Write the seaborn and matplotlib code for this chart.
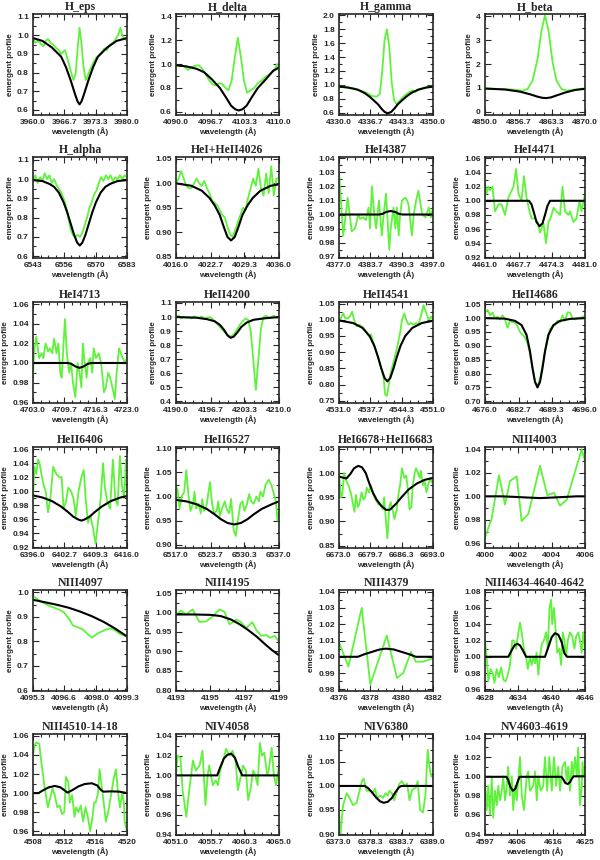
import matplotlib
matplotlib.use("Agg")
import matplotlib.pyplot as plt
import seaborn as sns
from matplotlib.ticker import AutoMinorLocator

sns.set_style("ticks")
plt.rcParams['font.family'] = ['Liberation Sans', 'DejaVu Sans']
plt.rcParams['font.weight'] = 'bold'

GREEN = '#5ef23a'

# ---------------- data ----------------
# H_eps
heps_obs_x = [3960.0, 3960.5, 3961.0, 3961.5, 3962.2, 3962.7, 3963.2, 3963.7, 3964.3, 3965.0, 3965.5, 3966.0, 3966.8,
              3967.4, 3968.0, 3968.6, 3969.1, 3969.5, 3969.9, 3970.3, 3970.7, 3971.2, 3971.6, 3972.2, 3972.8, 3973.4,
              3974.0, 3974.6, 3975.2, 3975.7, 3976.4, 3977.0, 3977.6, 3978.1, 3978.6, 3979.1, 3979.6, 3980.0]
heps_obs_y = [0.98, 0.96, 0.97, 0.96, 0.94, 0.97, 0.98, 0.96, 0.95, 0.93, 0.92, 0.90, 0.92, 0.87, 0.81, 0.76, 0.80,
              0.93, 1.04, 0.96, 0.84, 0.76, 0.78, 0.82, 0.85, 0.88, 0.89, 0.91, 0.93, 0.92, 0.95, 0.96, 0.98, 1.00,
              1.04, 0.99, 0.98, 0.97]
heps_mod_x = [3960, 3962, 3964, 3965, 3966, 3967, 3968, 3968.5, 3969, 3969.5, 3969.9, 3970.3, 3970.8, 3971.3,
              3971.8, 3972.8, 3973.8, 3974.8, 3975.8, 3977.8, 3980]
heps_mod_y = [0.985, 0.97, 0.935, 0.91, 0.885, 0.83, 0.76, 0.72, 0.68, 0.645, 0.63, 0.645, 0.68, 0.72, 0.76, 0.83,
              0.885, 0.91, 0.935, 0.97, 0.985]

# H_delta
hdel_obs_x = [4090.0, 4090.7, 4091.4, 4092.3, 4093.0, 4093.7, 4094.4, 4095.1, 4095.8, 4096.5, 4097.1, 4097.7,
              4098.4, 4099.0, 4099.6, 4100.2, 4100.8, 4101.4, 4102.0, 4102.6, 4103.2, 4103.8, 4104.5, 4105.2,
              4105.9, 4106.6, 4107.3, 4108.0, 4108.6, 4109.2, 4109.6, 4110.0]
hdel_obs_y = [0.99, 0.98, 0.985, 0.95, 0.975, 0.985, 0.99, 0.96, 0.91, 0.86, 0.83, 0.82, 0.84, 0.83, 0.80, 0.78,
              0.86, 1.05, 1.22, 1.06, 0.86, 0.76, 0.78, 0.80, 0.84, 0.86, 0.89, 0.91, 0.93, 0.95, 1.00, 0.96]
hdel_mod_x = [4090, 4092, 4094, 4095.5, 4097, 4098.5, 4099.7, 4100.7, 4101.5, 4102.2, 4102.9, 4103.7, 4104.7,
              4105.9, 4107.4, 4108.9, 4110]
hdel_mod_y = [0.99, 0.98, 0.96, 0.93, 0.87, 0.80, 0.72, 0.65, 0.62, 0.61, 0.62, 0.65, 0.72, 0.80, 0.87, 0.945, 0.97]

# H_gamma
hgam_obs_x = [4330.0, 4331.0, 4332.0, 4333.0, 4334.0, 4335.0, 4336.0, 4337.0, 4338.0, 4338.7, 4339.2, 4339.7,
              4340.2, 4340.7, 4341.2, 4341.7, 4342.3, 4343.0, 4344.0, 4345.0, 4345.7, 4346.3, 4347.0, 4348.0,
              4349.0, 4350.0]
hgam_obs_y = [0.97, 0.975, 0.96, 0.955, 0.93, 0.91, 0.88, 0.84, 0.83, 0.87, 1.20, 1.65, 1.80, 1.55, 1.05, 0.78,
              0.72, 0.78, 0.85, 0.90, 0.92, 0.90, 0.93, 0.96, 0.97, 0.98]
hgam_mod_x = [4330, 4332, 4334, 4335.5, 4336.5, 4337.5, 4338.3, 4339, 4339.7, 4340.4, 4341.1, 4341.8, 4342.5,
              4343.3, 4344.3, 4345.3, 4346.8, 4348.5, 4350]
hgam_mod_y = [0.975, 0.96, 0.93, 0.88, 0.83, 0.77, 0.72, 0.66, 0.61, 0.59, 0.61, 0.66, 0.72, 0.77, 0.83, 0.88,
              0.93, 0.96, 0.975]

# H_beta
hbet_obs_x = [4850.0, 4852.0, 4854.0, 4856.0, 4857.5, 4858.5, 4859.5, 4860.5, 4861.3, 4862.0, 4862.7, 4863.5,
              4864.3, 4865.3, 4866.5, 4867.5, 4869.0, 4870.0]
hbet_obs_y = [0.97, 0.96, 0.95, 0.92, 0.88, 0.95, 1.30, 2.20, 3.40, 4.05, 3.40, 2.10, 1.30, 0.95, 0.88, 0.92,
              0.95, 0.97]
hbet_mod_x = [4850, 4854, 4857, 4859, 4860.5, 4861.5, 4862.3, 4863.2, 4864.3, 4866, 4868, 4870]
hbet_mod_y = [0.97, 0.93, 0.84, 0.73, 0.63, 0.58, 0.57, 0.60, 0.68, 0.80, 0.91, 0.96]

# H_alpha
halp_obs_x = [6543, 6544, 6545, 6546, 6547, 6548, 6549, 6550, 6551, 6552, 6553, 6554, 6555, 6556, 6557, 6558,
              6559, 6560, 6561, 6562, 6563, 6564, 6565, 6566, 6567, 6568, 6569, 6570, 6571, 6572, 6573, 6574,
              6575, 6576, 6577, 6578, 6579, 6580, 6581, 6582, 6583]
halp_obs_y = [0.99, 1.02, 0.98, 1.01, 0.99, 1.03, 1.00, 1.02, 0.98, 1.00, 0.97, 0.95, 0.93, 0.90, 0.86, 0.80,
              0.74, 0.71, 0.70, 0.71, 0.70, 0.72, 0.76, 0.80, 0.85, 0.88, 0.92, 0.94, 0.98, 1.01, 0.99, 1.02,
              1.00, 1.02, 0.99, 1.01, 1.00, 1.02, 1.00, 1.02, 1.01]
halp_mod_x = [6543, 6547, 6550, 6552, 6554, 6556, 6557.5, 6559, 6560.5, 6561.8, 6562.9, 6564, 6565.3, 6566.8,
              6568.3, 6569.8, 6571.8, 6573.8, 6575.8, 6579, 6583]
halp_mod_y = [0.995, 0.99, 0.975, 0.96, 0.93, 0.88, 0.83, 0.77, 0.71, 0.67, 0.655, 0.67, 0.71, 0.77, 0.83, 0.88,
              0.93, 0.96, 0.975, 0.99, 0.995]

# HeI+HeII4026
he4026_obs_x = [4016.0, 4016.5, 4017.0, 4017.5, 4018.0, 4018.5, 4019.0, 4019.5, 4020.0, 4020.5, 4021.0, 4021.5,
                4022.0, 4022.5, 4023.0, 4023.5, 4024.0, 4024.5, 4025.0, 4025.5, 4026.0, 4026.5, 4027.0, 4027.5,
                4028.0, 4028.5, 4029.0, 4029.5, 4030.0, 4030.5, 4031.0, 4031.5, 4032.0, 4032.5, 4033.0, 4033.5,
                4034.0, 4034.5, 4035.0, 4035.5, 4036.0]
he4026_obs_y = [1.00, 1.01, 1.025, 1.01, 0.995, 0.99, 0.99, 1.00, 1.01, 1.00, 0.995, 1.005, 0.99, 0.98, 0.965,
                0.96, 0.955, 0.945, 0.935, 0.93, 0.91, 0.895, 0.89, 0.905, 0.92, 0.935, 0.95, 0.945, 0.97, 0.99,
                1.01, 0.995, 1.03, 0.99, 0.975, 1.02, 0.98, 1.035, 0.975, 1.01, 1.01]
he4026_mod_x = [4016, 4019, 4021, 4022.5, 4023.5, 4024.5, 4025.3, 4026, 4026.7, 4027.4, 4028.1, 4028.9, 4029.9,
                4030.9, 4032.4, 4034.4, 4036]
he4026_mod_y = [1.00, 0.995, 0.985, 0.97, 0.955, 0.935, 0.91, 0.89, 0.883, 0.89, 0.91, 0.935, 0.955, 0.97, 0.985,
                0.995, 0.998]

# HeI4387
he4387_obs_x = [4377.0, 4377.9, 4378.85, 4379.7, 4380.4, 4381.1, 4381.5, 4382.2, 4382.7, 4383.3, 4383.6, 4384.0,
                4384.5, 4384.9, 4385.5, 4386.1, 4386.5, 4387.0, 4387.7, 4388.0, 4388.6, 4389.0, 4389.3, 4389.7,
                4390.0, 4390.4, 4391.1, 4391.5, 4391.8, 4392.5, 4392.9, 4393.4, 4393.9, 4394.7, 4395.4, 4396.1,
                4396.6, 4397.0]
he4387_obs_y = [1.03, 0.985, 1.012, 0.988, 0.99, 1.00, 0.997, 0.998, 0.996, 1.005, 0.99, 1.02, 1.00, 0.99, 1.01,
                0.985, 1.00, 1.015, 0.975, 0.99, 1.005, 0.99, 1.005, 0.985, 1.00, 1.01, 1.012, 1.01, 1.007, 0.985,
                1.00, 1.01, 1.017, 1.00, 0.998, 1.005, 0.998, 1.005]
he4387_mod_x = [4377, 4385.5, 4386.3, 4387, 4388, 4389, 4389.7, 4390.5, 4397]
he4387_mod_y = [1.0, 1.0, 1.0005, 1.0018, 1.0025, 1.0018, 1.0005, 1.0, 1.0]

# HeI4471
he4471_obs_x = [4461.0, 4461.3, 4461.7, 4462.0, 4462.5, 4463.0, 4463.7, 4464.3, 4465.0, 4465.7, 4466.7, 4467.2,
                4467.7, 4468.3, 4468.8, 4469.3, 4469.9, 4470.3, 4471.0, 4471.5, 4472.0, 4472.7, 4473.2, 4473.7,
                4474.1, 4474.7, 4475.3, 4476.0, 4476.5, 4477.0, 4477.7, 4478.0, 4478.7, 4479.3, 4479.9, 4480.3,
                4481.0]
he4471_obs_y = [1.025, 1.01, 1.02, 1.015, 1.02, 0.985, 0.995, 0.995, 0.98, 1.005, 1.02, 1.045, 1.01, 1.0, 1.035,
                1.005, 0.985, 0.975, 0.975, 0.97, 0.955, 0.968, 0.94, 0.97, 0.975, 0.99, 0.985, 0.98, 1.02, 0.985,
                0.98, 0.985, 0.97, 0.975, 1.00, 0.985, 1.01]
he4471_mod_x = [4461, 4469.8, 4470.3, 4470.8, 4471.3, 4471.9, 4472.5, 4473, 4473.5, 4474, 4481]
he4471_mod_y = [1.0, 1.0, 0.995, 0.983, 0.97, 0.964, 0.968, 0.98, 0.993, 1.0, 1.0]

# HeI4713
he4713_obs_x = [4703.0, 4703.2, 4703.7, 4704.3, 4704.8, 4705.2, 4705.7, 4706.2, 4706.6, 4707.1, 4707.5, 4708.0,
                4708.4, 4708.8, 4709.1, 4709.5, 4709.8, 4710.2, 4710.7, 4711.1, 4711.5, 4712.0, 4712.5, 4712.9,
                4713.3, 4713.6, 4714.0, 4714.4, 4714.7, 4715.2, 4715.6, 4715.9, 4716.4, 4717.0, 4717.5, 4718.1,
                4718.5, 4719.0, 4719.4, 4719.9, 4720.4, 4720.8, 4721.3, 4721.7, 4722.1, 4722.6, 4723.0]
he4713_obs_y = [0.985, 1.01, 1.027, 1.005, 1.01, 1.005, 1.02, 1.012, 1.015, 1.01, 1.025, 1.01, 1.02, 0.99, 0.985,
                1.02, 1.045, 1.01, 0.99, 1.00, 0.98, 0.965, 1.0, 0.99, 0.975, 1.02, 1.00, 0.985, 1.0, 1.005, 0.99,
                1.015, 1.005, 1.01, 1.0, 0.97, 0.975, 0.99, 0.985, 0.975, 0.963, 0.99, 1.015, 1.01, 1.005, 1.0,
                1.005]
he4713_mod_x = [4703, 4710.5, 4711.2, 4712, 4712.9, 4713.8, 4714.6, 4715.4, 4723]
he4713_mod_y = [1.0, 1.0, 0.999, 0.9965, 0.995, 0.9965, 0.999, 1.0, 1.0]

# HeII4200
he4200_obs_x = [4190.0, 4190.5, 4191.0, 4191.5, 4192.0, 4192.5, 4193.0, 4193.5, 4194.0, 4194.5, 4195.0, 4195.5,
                4196.0, 4196.5, 4197.0, 4197.5, 4198.0, 4198.5, 4199.0, 4199.5, 4200.0, 4200.5, 4201.0, 4201.5,
                4202.0, 4202.5, 4203.0, 4203.5, 4204.0, 4204.5, 4205.0, 4205.5, 4206.0, 4206.5, 4207.0, 4207.5,
                4208.0, 4208.5, 4209.0, 4209.5, 4210.0]
he4200_obs_y = [1.0, 1.01, 0.99, 1.0, 0.995, 1.0, 0.99, 1.005, 1.0, 0.995, 1.005, 0.985, 0.995, 1.0, 0.99, 0.97,
                0.95, 0.93, 0.91, 0.89, 0.87, 0.86, 0.87, 0.89, 0.92, 0.95, 0.97, 0.99, 0.98, 0.90, 0.70, 0.48,
                0.70, 0.92, 1.0, 1.01, 0.995, 1.0, 1.01, 0.995, 1.005]
he4200_mod_x = [4190, 4194, 4196, 4197.5, 4198.5, 4199.3, 4200, 4200.6, 4201.2, 4201.9, 4202.7, 4203.7, 4205,
                4207, 4210]
he4200_mod_y = [1.0, 0.995, 0.985, 0.97, 0.945, 0.91, 0.87, 0.852, 0.86, 0.89, 0.93, 0.96, 0.98, 0.99, 1.0]

# HeII4541
he4541_obs_x = [4531.0, 4531.4, 4531.9, 4532.3, 4532.9, 4533.3, 4533.8, 4534.2, 4534.8, 4535.3, 4536.2, 4536.9,
                4537.3, 4537.8, 4538.3, 4539.0, 4539.8, 4540.5, 4540.8, 4541.2, 4541.5, 4541.9, 4542.6, 4543.3,
                4544.0, 4544.4, 4544.9, 4545.3, 4545.8, 4546.3, 4546.9, 4547.4, 4547.9, 4548.4, 4549.0, 4549.6,
                4550.1, 4550.6, 4551.0]
he4541_obs_y = [0.99, 1.005, 1.02, 1.005, 1.005, 1.01, 1.025, 1.0, 0.98, 0.985, 0.975, 0.96, 0.95, 0.955, 0.93,
                0.90, 0.86, 0.82, 0.77, 0.765, 0.79, 0.83, 0.87, 0.91, 0.96, 1.0, 1.02, 1.0, 0.985, 0.99, 0.985,
                0.99, 0.985, 1.01, 1.045, 1.02, 1.0, 1.01, 1.0]
he4541_mod_x = [4531, 4534, 4536, 4537.5, 4538.5, 4539.3, 4540, 4540.7, 4541.3, 4541.9, 4542.6, 4543.3, 4544.1,
                4545.1, 4546.6, 4548.6, 4551]
he4541_mod_y = [0.998, 0.99, 0.975, 0.95, 0.92, 0.885, 0.85, 0.82, 0.81, 0.82, 0.85, 0.885, 0.92, 0.95, 0.975,
                0.99, 0.997]

# HeII4686
he4686_obs_x = [4676.0, 4676.5, 4677.0, 4677.5, 4678.0, 4678.5, 4679.0, 4679.5, 4680.0, 4680.5, 4681.0, 4681.5,
                4682.0, 4682.5, 4683.0, 4683.5, 4684.0, 4684.5, 4685.0, 4685.5, 4686.0, 4686.5, 4687.0, 4687.5,
                4688.0, 4688.5, 4689.0, 4689.5, 4690.0, 4690.5, 4691.0, 4691.5, 4692.0, 4692.5, 4693.0, 4693.5,
                4694.0, 4694.5, 4695.0, 4695.5, 4696.0]
he4686_obs_y = [1.02, 1.03, 1.01, 1.02, 1.00, 1.005, 0.995, 1.01, 0.995, 0.965, 0.99, 0.985, 0.985, 0.97, 0.95,
                0.94, 0.93, 0.91, 0.87, 0.82, 0.77, 0.755, 0.78, 0.83, 0.88, 0.93, 0.96, 0.97, 0.975, 0.99, 0.985,
                1.01, 0.99, 1.02, 1.02, 1.0, 0.995, 1.0, 1.0, 1.005, 1.005]
he4686_mod_x = [4676, 4680, 4682, 4683.3, 4684.3, 4685, 4685.5, 4686, 4686.5, 4687, 4687.5, 4688, 4688.7, 4689.7,
                4691, 4693, 4696]
he4686_mod_y = [1.0, 0.998, 0.99, 0.975, 0.94, 0.88, 0.82, 0.77, 0.75, 0.77, 0.82, 0.88, 0.94, 0.975, 0.99, 0.997,
                1.0]

# HeII6406
he6406_obs_x = [6396.0, 6396.3, 6396.7, 6397.1, 6397.4, 6397.9, 6398.4, 6398.7, 6399.2, 6399.7, 6400.3, 6400.9,
                6401.6, 6402.1, 6402.5, 6403.0, 6403.5, 6404.1, 6404.6, 6405.1, 6405.7, 6406.3, 6406.8, 6407.2,
                6407.7, 6408.2, 6408.7, 6409.3, 6409.9, 6410.4, 6410.9, 6411.3, 6411.8, 6412.4, 6413.0, 6413.5,
                6414.0, 6414.5, 6414.9, 6415.4, 6415.8, 6416.0]
he6406_obs_y = [0.99, 1.035, 1.025, 1.045, 1.04, 1.02, 1.005, 1.0, 0.97, 0.99, 1.035, 1.025, 1.02, 1.02, 0.975,
                0.985, 1.005, 1.0, 0.99, 0.965, 1.0, 1.02, 1.03, 0.99, 0.955, 0.965, 0.95, 0.925, 0.96, 0.99, 1.04,
                1.005, 0.985, 0.975, 1.045, 0.99, 0.98, 1.05, 1.01, 0.99, 1.045, 1.04]
he6406_mod_x = [6396, 6398, 6400, 6402, 6403.5, 6404.5, 6405.5, 6406.3, 6407.1, 6408.1, 6409.1, 6410.6, 6412.6,
                6414.6, 6416]
he6406_mod_y = [0.994, 0.991, 0.986, 0.978, 0.970, 0.964, 0.96, 0.958, 0.96, 0.964, 0.970, 0.978, 0.986, 0.991,
                0.993]

# HeII6527
he6527_obs_x = [6517.0, 6517.3, 6517.7, 6518.1, 6518.6, 6519.0, 6519.4, 6519.8, 6520.3, 6520.6, 6520.9, 6521.4,
                6521.8, 6522.1, 6522.4, 6522.9, 6523.6, 6524.0, 6524.4, 6524.9, 6525.2, 6525.5, 6526.1, 6526.5,
                6526.8, 6527.3, 6527.7, 6528.2, 6528.6, 6529.0, 6529.5, 6529.9, 6530.3, 6530.8, 6531.2, 6531.6,
                6532.1, 6532.6, 6533.1, 6533.4, 6533.9, 6534.4, 6535.0, 6535.5, 6535.9, 6536.4, 6536.7, 6537.0]
he6527_obs_y = [1.02, 1.015, 0.975, 1.0, 1.01, 1.055, 1.005, 0.97, 0.985, 1.01, 0.975, 0.985, 0.965, 0.995, 0.97,
                0.98, 1.03, 0.985, 0.965, 0.97, 0.99, 0.96, 0.98, 0.99, 0.975, 0.965, 0.995, 0.93, 0.918, 0.95,
                0.985, 0.99, 0.97, 0.985, 1.005, 0.99, 0.985, 1.0, 0.99, 1.01, 1.0, 1.025, 1.035, 1.025, 1.01, 0.99,
                0.95, 0.97]
he6527_mod_x = [6517, 6519, 6521, 6523, 6524.5, 6525.7, 6527, 6528.3, 6529.6, 6530.9, 6532.1, 6533.6, 6535.6, 6537]
he6527_mod_y = [0.993, 0.99, 0.984, 0.974, 0.963, 0.953, 0.945, 0.942, 0.945, 0.953, 0.963, 0.974, 0.984, 0.99]

# HeI6678+HeII6683
he6678_obs_x = [6673.0, 6673.4, 6673.7, 6674.1, 6674.5, 6675.0, 6675.5, 6675.8, 6676.3, 6676.6, 6677.0, 6677.3,
                6677.8, 6678.2, 6678.6, 6678.9, 6679.4, 6679.8, 6680.3, 6680.8, 6681.4, 6681.9, 6682.3, 6682.6,
                6683.0, 6683.3, 6683.7, 6684.0, 6684.5, 6684.8, 6685.3, 6685.7, 6686.0, 6686.4, 6686.9, 6687.3,
                6687.6, 6688.0, 6688.4, 6688.7, 6689.1, 6689.4, 6689.8, 6690.2, 6690.4, 6690.9, 6691.2, 6691.6,
                6692.1, 6692.4, 6692.8, 6693.0]
he6678_obs_y = [1.0, 0.95, 0.955, 1.0, 0.985, 0.975, 0.96, 0.945, 0.92, 0.955, 0.93, 0.935, 0.96, 0.945, 0.95,
                0.97, 0.96, 0.975, 0.955, 0.945, 0.935, 0.935, 0.925, 0.95, 0.90, 0.865, 0.93, 0.94, 0.92, 0.905,
                0.925, 0.96, 0.975, 1.01, 0.99, 0.995, 0.97, 0.925, 0.93, 0.975, 1.0, 1.01, 1.0, 0.99, 1.005, 0.975,
                0.985, 0.96, 0.98, 0.99, 0.98, 0.985]
he6678_mod_x = [6673, 6674, 6674.6, 6675.4, 6676.2, 6677.1, 6677.9, 6678.7, 6679.4, 6680.2, 6681, 6682, 6683,
                6683.8, 6685, 6686.3, 6687.8, 6689.5, 6691.2, 6693]
he6678_mod_y = [0.993, 0.99, 0.989, 0.998, 1.01, 1.015, 1.012, 1.0, 0.98, 0.96, 0.945, 0.932, 0.924, 0.924, 0.935,
                0.95, 0.966, 0.978, 0.986, 0.99]

# NIII4003
n4003_obs_x = [4000.0, 4000.4, 4000.84, 4001.2, 4001.5, 4001.9, 4002.2, 4002.6, 4003.3, 4003.74, 4004.14, 4004.5,
               4004.9, 4005.8, 4006.0]
n4003_obs_y = [0.965, 0.981, 1.018, 0.993, 1.013, 1.017, 0.979, 0.985, 1.026, 1.001, 1.003, 0.992, 0.997, 1.040,
               1.030]
n4003_mod_x = [4000, 4001, 4001.8, 4002.5, 4003.3, 4004.1, 4004.8, 4005.5, 4006]
n4003_mod_y = [1.0, 1.0, 0.9995, 0.999, 0.9985, 0.999, 0.9995, 1.0, 1.0]

# NIII4097
n4097_obs_x = [4095.3, 4095.6, 4096.0, 4096.4, 4096.6, 4096.85, 4097.0, 4097.4, 4097.8, 4098.1, 4098.4, 4098.6,
               4098.8, 4099.0, 4099.3]
n4097_obs_y = [0.985, 0.965, 0.945, 0.93, 0.92, 0.89, 0.865, 0.85, 0.815, 0.835, 0.848, 0.853, 0.845, 0.83, 0.82]
n4097_mod_x = [4095.3, 4095.8, 4096.3, 4096.8, 4097.3, 4097.8, 4098.3, 4098.8, 4099.3]
n4097_mod_y = [0.970, 0.960, 0.950, 0.938, 0.922, 0.903, 0.880, 0.852, 0.820]

# NIII4195
n4195_obs_x = [4193.0, 4193.29, 4193.58, 4193.97, 4194.36, 4194.75, 4195.14, 4195.53, 4195.82, 4196.12, 4196.31,
               4196.51, 4196.8, 4197.09, 4197.44, 4197.68, 4197.97, 4198.26, 4198.49, 4198.75, 4199.0]
n4195_obs_y = [0.995, 1.005, 0.995, 1.008, 0.976, 0.977, 0.99, 1.008, 1.002, 0.97, 0.975, 0.982, 0.975, 0.96,
               0.975, 0.955, 0.94, 0.942, 0.935, 0.94, 0.925]
n4195_mod_x = [4193, 4194, 4195, 4195.6, 4196.2, 4196.7, 4197.2, 4197.7, 4198.2, 4198.6, 4199]
n4195_mod_y = [0.995, 0.995, 0.994, 0.991, 0.982, 0.97, 0.955, 0.938, 0.918, 0.903, 0.89]

# NIII4379
n4379_obs_x = [4376.0, 4376.6, 4377.45, 4378.0, 4379.05, 4379.7, 4380.1, 4380.6, 4380.9, 4381.35, 4382.0]
n4379_obs_y = [1.009, 0.994, 1.03, 0.983, 1.013, 0.987, 0.99, 1.003, 0.997, 0.997, 0.999]
n4379_mod_x = [4376, 4377.2, 4377.6, 4378.1, 4378.6, 4379.0, 4379.5, 4380.0, 4380.5, 4380.9, 4382]
n4379_mod_y = [1.0, 1.0, 1.0015, 1.003, 1.0045, 1.005, 1.0045, 1.003, 1.0015, 1.0, 1.0]

# NIII4634-4640-4642
n4634_obs_x = [4628.0, 4628.3, 4628.6, 4629.0, 4629.4, 4629.7, 4630.1, 4630.5, 4630.9, 4631.3, 4631.7, 4632.0,
               4632.5, 4632.9, 4633.2, 4633.6, 4633.9, 4634.3, 4634.6, 4635.0, 4635.4, 4635.7, 4636.1, 4636.4,
               4636.7, 4637.0, 4637.3, 4637.6, 4637.9, 4638.2, 4638.6, 4639.0, 4639.3, 4639.6, 4639.9, 4640.1,
               4640.4, 4640.7, 4641.0, 4641.4, 4641.7, 4642.0, 4642.3, 4642.6, 4642.9, 4643.3, 4643.7, 4644.1,
               4644.4, 4644.8, 4645.1, 4645.4, 4645.7, 4646.0]
n4634_obs_y = [1.02, 1.0, 0.97, 0.985, 0.98, 0.968, 0.985, 0.975, 0.987, 0.972, 0.97, 0.975, 0.99, 1.02, 1.02,
               1.01, 1.025, 1.042, 1.03, 1.01, 1.0, 0.985, 1.0, 0.99, 1.0, 0.992, 1.005, 0.978, 1.0, 1.015, 1.02,
               1.03, 1.01, 1.06, 1.07, 1.04, 1.06, 1.035, 1.005, 1.01, 0.99, 1.03, 1.02, 1.0, 1.02, 1.03, 1.025,
               1.01, 1.025, 1.03, 1.02, 1.005, 1.03, 1.01]
n4634_mod_x = [4628, 4632.2, 4632.8, 4633.3, 4633.8, 4634.3, 4634.8, 4635.4, 4638.8, 4639.4, 4640.0, 4640.6,
               4641.2, 4641.8, 4642.3, 4642.8, 4646]
n4634_mod_y = [1.0, 1.0, 1.008, 1.014, 1.016, 1.014, 1.008, 1.0, 1.0, 1.012, 1.024, 1.029, 1.027, 1.018, 1.004,
               1.0, 1.0]

# NIII4510-14-18
n4510_obs_x = [4508.0, 4508.2, 4508.4, 4508.8, 4509.1, 4509.5, 4509.9, 4510.2, 4510.5, 4510.8, 4511.1, 4511.4,
               4511.7, 4512.0, 4512.2, 4512.5, 4512.7, 4513.0, 4513.3, 4513.5, 4513.8, 4514.1, 4514.4, 4514.7,
               4515.0, 4515.3, 4515.6, 4515.8, 4516.0, 4516.3, 4516.5, 4516.8, 4517.1, 4517.3, 4517.6, 4517.9,
               4518.3, 4518.6, 4518.8, 4519.1, 4519.4, 4519.6, 4519.7, 4520.0]
n4510_obs_y = [1.04, 1.05, 1.053, 1.052, 1.03, 1.005, 0.985, 0.995, 1.005, 0.997, 0.985, 0.987, 0.978, 0.98,
               1.017, 1.012, 0.99, 0.998, 0.975, 0.985, 0.98, 0.987, 0.97, 0.985, 0.975, 0.96, 0.975, 0.99, 0.99,
               1.0, 1.025, 1.005, 0.985, 0.97, 0.98, 0.995, 1.015, 1.025, 1.005, 0.985, 1.0, 0.99, 0.97, 0.96]
n4510_mod_x = [4508, 4508.7, 4509.3, 4510, 4510.8, 4511.5, 4512.0, 4512.4, 4513, 4513.8, 4514.6, 4515.5, 4516.2,
               4516.7, 4517.0, 4518, 4519, 4520]
n4510_mod_y = [1.0, 1.0, 1.003, 1.006, 1.0075, 1.006, 1.003, 1.0005, 1.003, 1.007, 1.0095, 1.0103, 1.008, 1.003,
               1.0015, 1.0018, 1.0015, 1.0]

# NIV4058
n4058_obs_x = [4051.0, 4051.2, 4051.6, 4051.9, 4052.4, 4052.8, 4053.3, 4053.7, 4054.2, 4054.6, 4055.0, 4055.3,
               4055.5, 4056.0, 4056.4, 4056.7, 4057.0, 4057.4, 4057.8, 4058.3, 4058.7, 4059.1, 4059.4, 4059.7,
               4060.1, 4060.5, 4060.8, 4061.1, 4061.5, 4061.8, 4062.1, 4062.4, 4062.7, 4063.0, 4063.4, 4063.6,
               4064.0, 4064.3, 4064.6, 4065.0]
n4058_obs_y = [1.0, 1.02, 1.018, 0.985, 0.958, 0.985, 1.015, 1.005, 1.01, 1.025, 0.97, 1.0, 1.01, 0.99, 0.995,
               0.99, 1.005, 1.015, 1.027, 1.02, 1.025, 1.015, 0.985, 0.995, 1.01, 1.005, 0.975, 0.985, 1.005, 1.0,
               0.99, 1.033, 1.02, 1.023, 1.0, 1.005, 1.028, 1.0, 0.99, 1.01]
n4058_mod_x = [4051, 4056.6, 4057.0, 4057.5, 4058.0, 4058.5, 4059.0, 4059.5, 4060.0, 4065]
n4058_mod_y = [1.0, 1.0, 1.008, 1.017, 1.021, 1.022, 1.018, 1.008, 1.0, 1.0]

# NIV6380
n6380_obs_x = [6373.0, 6373.2, 6373.5, 6373.7, 6374.3, 6374.8, 6375.2, 6375.4, 6376.0, 6376.5, 6376.9, 6377.2,
               6377.4, 6377.7, 6378.3, 6378.8, 6379.1, 6379.5, 6380.0, 6380.5, 6380.9, 6381.3, 6381.6, 6382.0,
               6382.4, 6382.9, 6383.3, 6383.7, 6384.2, 6384.6, 6385.0, 6385.4, 6385.7, 6386.0, 6386.4, 6386.8,
               6387.3, 6387.7, 6388.1, 6388.4, 6388.7, 6389.0]
n6380_obs_y = [0.945, 0.89, 0.935, 0.96, 0.985, 0.975, 0.965, 0.96, 0.965, 0.99, 1.01, 1.015, 1.005, 0.99, 0.99,
               0.985, 0.995, 0.975, 0.98, 0.975, 0.985, 0.98, 0.99, 0.985, 0.97, 0.99, 1.005, 1.01, 1.0, 1.005,
               0.97, 0.99, 0.995, 0.995, 1.01, 0.95, 0.945, 0.98, 1.075, 1.04, 1.02, 1.02]
n6380_mod_x = [6373, 6377.4, 6378.0, 6378.6, 6379.3, 6380.0, 6380.6, 6381.3, 6382.0, 6382.6, 6383.2, 6383.6, 6389]
n6380_mod_y = [1.0, 1.0, 0.995, 0.987, 0.976, 0.968, 0.965, 0.967, 0.975, 0.987, 0.997, 1.0, 1.0]

# NV4603-4619
nv4603_obs_x = [4597.0, 4597.5, 4597.9, 4598.4, 4598.9, 4599.3, 4599.8, 4600.3, 4600.7, 4601.2, 4601.7, 4602.1,
                4602.6, 4603.1, 4603.5, 4604.0, 4604.5, 4604.9, 4605.4, 4605.9, 4606.3, 4606.8, 4607.3, 4607.9,
                4608.7, 4609.1, 4609.6, 4610.5, 4611.0, 4611.5, 4611.9, 4612.6, 4613.3, 4613.8, 4614.4, 4615.0,
                4615.7, 4616.3, 4616.9, 4617.5, 4618.0, 4618.7, 4619.4, 4619.9, 4620.3, 4620.8, 4621.3, 4621.7,
                4622.2, 4622.7, 4623.1, 4623.6, 4624.1, 4624.3, 4624.7, 4625.0]
nv4603_obs_y = [0.995, 0.965, 0.99, 0.96, 0.998, 0.957, 0.985, 0.97, 0.99, 0.975, 0.985, 1.0, 0.975, 0.99, 1.01,
                0.98, 1.0, 0.965, 0.99, 0.975, 0.995, 1.02, 0.98, 0.965, 1.0, 1.005, 0.985, 0.99, 1.005, 0.975, 1.0,
                0.985, 0.99, 1.02, 0.985, 1.02, 0.985, 1.02, 0.99, 1.01, 0.985, 1.01, 1.015, 0.995, 1.01, 0.985,
                1.015, 1.0, 1.02, 1.0, 1.03, 0.97, 0.99, 1.015, 1.0, 1.01]
nv4603_mod_x = [4597, 4603.0, 4603.5, 4604.1, 4604.8, 4605.5, 4606.1, 4606.7, 4618.4, 4618.9, 4619.5, 4620.2,
                4620.8, 4621.4, 4621.8, 4625]
nv4603_mod_y = [0.9995, 0.9995, 0.996, 0.989, 0.985, 0.987, 0.994, 0.9995, 0.9995, 0.997, 0.993, 0.992, 0.994,
                0.998, 1.0, 1.0]

# titles, axis ranges and tick labels
titles = ['H_eps', 'H_delta', 'H_gamma', 'H_beta',
          'H_alpha', 'HeI+HeII4026', 'HeI4387', 'HeI4471',
          'HeI4713', 'HeII4200', 'HeII4541', 'HeII4686',
          'HeII6406', 'HeII6527', 'HeI6678+HeII6683', 'NIII4003',
          'NIII4097', 'NIII4195', 'NIII4379', 'NIII4634-4640-4642',
          'NIII4510-14-18', 'NIV4058', 'NIV6380', 'NV4603-4619']

xticklabels = [
    ['3960.0', '3966.7', '3973.3', '3980.0'], ['4090.0', '4096.7', '4103.3', '4110.0'],
    ['4330.0', '4336.7', '4343.3', '4350.0'], ['4850.0', '4856.7', '4863.3', '4870.0'],
    ['6543', '6556', '6570', '6583'], ['4016.0', '4022.7', '4029.3', '4036.0'],
    ['4377.0', '4383.7', '4390.3', '4397.0'], ['4461.0', '4467.7', '4474.3', '4481.0'],
    ['4703.0', '4709.7', '4716.3', '4723.0'], ['4190.0', '4196.7', '4203.3', '4210.0'],
    ['4531.0', '4537.7', '4544.3', '4551.0'], ['4676.0', '4682.7', '4689.3', '4696.0'],
    ['6396.0', '6402.7', '6409.3', '6416.0'], ['6517.0', '6523.7', '6530.3', '6537.0'],
    ['6673.0', '6679.7', '6686.3', '6693.0'], ['4000', '4002', '4004', '4006'],
    ['4095.3', '4096.6', '4098.0', '4099.3'], ['4193', '4195', '4197', '4199'],
    ['4376', '4378', '4380', '4382'], ['4628', '4634', '4640', '4646'],
    ['4508', '4512', '4516', '4520'], ['4051.0', '4055.7', '4060.3', '4065.0'],
    ['6373.0', '6378.3', '6383.7', '6389.0'], ['4597', '4606', '4616', '4625'],
]

yticklabels = [
    ['0.6', '0.7', '0.8', '0.9', '1.0', '1.1'], ['0.6', '0.8', '1.0', '1.2', '1.4'],
    ['0.6', '0.8', '1.0', '1.2', '1.4', '1.6', '1.8', '2.0'], ['0', '1', '2', '3', '4'],
    ['0.6', '0.7', '0.8', '0.9', '1.0', '1.1'], ['0.85', '0.90', '0.95', '1.00', '1.05'],
    ['0.97', '0.98', '0.99', '1.00', '1.01', '1.02', '1.03', '1.04'],
    ['0.92', '0.94', '0.96', '0.98', '1.00', '1.02', '1.04', '1.06'],
    ['0.96', '0.98', '1.00', '1.02', '1.04', '1.06'],
    ['0.4', '0.5', '0.6', '0.7', '0.8', '0.9', '1.0', '1.1'],
    ['0.75', '0.80', '0.85', '0.90', '0.95', '1.00', '1.05'],
    ['0.70', '0.75', '0.80', '0.85', '0.90', '0.95', '1.00', '1.05'],
    ['0.92', '0.94', '0.96', '0.98', '1.00', '1.02', '1.04', '1.06'],
    ['0.90', '0.95', '1.00', '1.05', '1.10'], ['0.85', '0.90', '0.95', '1.00', '1.05'],
    ['0.96', '0.98', '1.00', '1.02', '1.04'], ['0.6', '0.7', '0.8', '0.9', '1.0'],
    ['0.80', '0.85', '0.90', '0.95', '1.00', '1.05'],
    ['0.98', '0.99', '1.00', '1.01', '1.02', '1.03', '1.04'],
    ['0.96', '0.98', '1.00', '1.02', '1.04', '1.06', '1.08'],
    ['0.96', '0.98', '1.00', '1.02', '1.04', '1.06'], ['0.94', '0.96', '0.98', '1.00', '1.02', '1.04'],
    ['0.90', '0.95', '1.00', '1.05', '1.10'], ['0.94', '0.96', '0.98', '1.00', '1.02', '1.04'],
]

ylims = [(0.573, 1.114), (0.572, 1.42), (0.566, 2.02), (-0.14, 4.1),
         (0.59, 1.115), (0.847, 1.054), (0.969, 1.041), (0.919, 1.062),
         (0.959, 1.0625), (0.388, 1.107), (0.743, 1.055), (0.694, 1.058),
         (0.919, 1.063), (0.893, 1.103), (0.845, 1.054), (0.956, 1.042),
         (0.597, 1.01), (0.798, 1.058), (0.979, 1.041), (0.958, 1.082),
         (0.956, 1.062), (0.9395, 1.042), (0.898, 1.108), (0.939, 1.044)]

observed = [(heps_obs_x, heps_obs_y), (hdel_obs_x, hdel_obs_y), (hgam_obs_x, hgam_obs_y), (hbet_obs_x, hbet_obs_y),
            (halp_obs_x, halp_obs_y), (he4026_obs_x, he4026_obs_y), (he4387_obs_x, he4387_obs_y),
            (he4471_obs_x, he4471_obs_y), (he4713_obs_x, he4713_obs_y), (he4200_obs_x, he4200_obs_y),
            (he4541_obs_x, he4541_obs_y), (he4686_obs_x, he4686_obs_y), (he6406_obs_x, he6406_obs_y),
            (he6527_obs_x, he6527_obs_y), (he6678_obs_x, he6678_obs_y), (n4003_obs_x, n4003_obs_y),
            (n4097_obs_x, n4097_obs_y), (n4195_obs_x, n4195_obs_y), (n4379_obs_x, n4379_obs_y),
            (n4634_obs_x, n4634_obs_y), (n4510_obs_x, n4510_obs_y), (n4058_obs_x, n4058_obs_y),
            (n6380_obs_x, n6380_obs_y), (nv4603_obs_x, nv4603_obs_y)]
model = [(heps_mod_x, heps_mod_y), (hdel_mod_x, hdel_mod_y), (hgam_mod_x, hgam_mod_y), (hbet_mod_x, hbet_mod_y),
         (halp_mod_x, halp_mod_y), (he4026_mod_x, he4026_mod_y), (he4387_mod_x, he4387_mod_y),
         (he4471_mod_x, he4471_mod_y), (he4713_mod_x, he4713_mod_y), (he4200_mod_x, he4200_mod_y),
         (he4541_mod_x, he4541_mod_y), (he4686_mod_x, he4686_mod_y), (he6406_mod_x, he6406_mod_y),
         (he6527_mod_x, he6527_mod_y), (he6678_mod_x, he6678_mod_y), (n4003_mod_x, n4003_mod_y),
         (n4097_mod_x, n4097_mod_y), (n4195_mod_x, n4195_mod_y), (n4379_mod_x, n4379_mod_y),
         (n4634_mod_x, n4634_mod_y), (n4510_mod_x, n4510_mod_y), (n4058_mod_x, n4058_mod_y),
         (n6380_mod_x, n6380_mod_y), (nv4603_mod_x, nv4603_mod_y)]

# ---------------- layout (pixels of a 600x860 canvas) ----------------
W, H = 600, 860
col_left = [33, 176, 339, 485]
col_width = [94, 103, 94, 100]
row_top = [14, 157, 302, 447, 590, 734]
row_height = 101

fig = plt.figure(figsize=(6, 8.6), dpi=100)

for i, name in enumerate(titles):
    r, c = divmod(i, 4)
    ax = fig.add_axes([col_left[c] / W, 1 - (row_top[r] + row_height) / H,
                       col_width[c] / W, row_height / H])
    ox, oy = observed[i]
    mx, my = model[i]
    sns.lineplot(x=ox, y=oy, ax=ax, color=GREEN, linewidth=1.3, sort=False, estimator=None)
    sns.lineplot(x=mx, y=my, ax=ax, color='black', linewidth=1.5, sort=False, estimator=None)

    xt = xticklabels[i]
    yt = yticklabels[i]
    ax.set_xlim(float(xt[0]), float(xt[-1]))
    ax.set_ylim(*ylims[i])
    ax.set_xticks([float(t) for t in xt])
    ax.set_xticklabels(xt)
    ax.set_yticks([float(t) for t in yt])
    ax.set_yticklabels(yt)
    ax.xaxis.set_minor_locator(AutoMinorLocator(4))
    ax.yaxis.set_minor_locator(AutoMinorLocator(2))

    ax.tick_params(which='both', direction='in', top=True, right=True, width=0.8)
    ax.tick_params(which='major', length=4, labelsize=6, pad=3)
    ax.tick_params(which='minor', length=2)
    for lab in ax.get_xticklabels() + ax.get_yticklabels():
        lab.set_fontweight('bold')
    for sp in ax.spines.values():
        sp.set_linewidth(1.2)
        sp.set_visible(True)

    ax.set_title(name, fontsize=8.5, fontweight='bold', family='Liberation Serif', pad=3)
    ax.set_xlabel('wavelength (Å)', fontsize=5.8, fontweight='bold', labelpad=1)
    ax.set_ylabel('emergent profile', fontsize=5.8, fontweight='bold', labelpad=2)

fig.savefig('out.png', dpi=100)
